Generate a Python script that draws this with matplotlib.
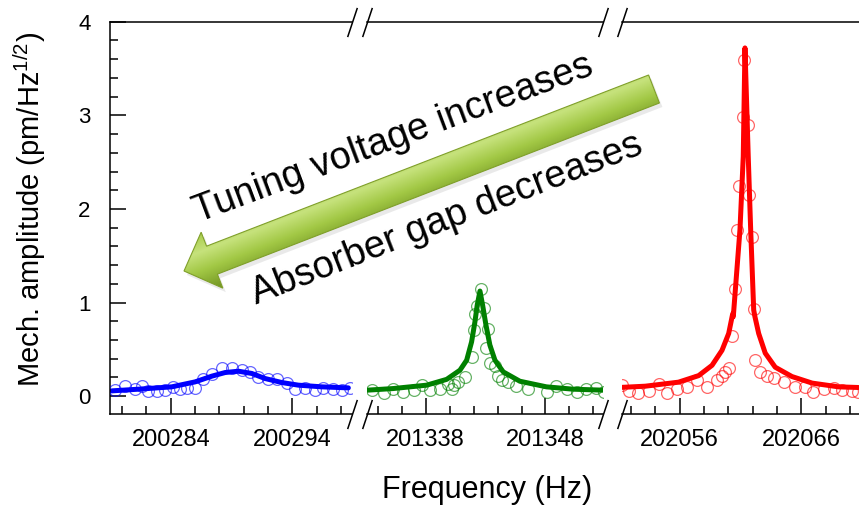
import numpy as np
import matplotlib.pyplot as plt
from matplotlib.patches import FancyArrow
from matplotlib.colors import LinearSegmentedColormap

plt.rcParams['font.family'] = ['Liberation Sans', 'DejaVu Sans']
plt.rcParams['mathtext.default'] = 'regular'

# --- measured spectra (frequency in Hz, amplitude in pm/Hz^1/2) ---
blue_f = [200279.42, 200280.24, 200281.06, 200281.61, 200282.16, 200282.85, 200283.53,
          200284.21, 200284.76, 200285.32, 200286.00, 200286.68, 200287.37, 200288.19,
          200289.02, 200289.84, 200290.52, 200291.20, 200292.03, 200292.72, 200293.54,
          200294.22, 200295.04, 200295.87, 200296.55, 200297.37, 200298.06, 200298.74]
blue_a = [0.071, 0.107, 0.082, 0.107, 0.057, 0.057, 0.071,
          0.100, 0.082, 0.093, 0.093, 0.180, 0.235, 0.296,
          0.296, 0.278, 0.260, 0.207, 0.189, 0.180, 0.136,
          0.082, 0.093, 0.071, 0.093, 0.082, 0.071, 0.093]

green_f = [201333.5, 201334.5, 201335.3, 201336.1, 201337.0, 201337.7, 201338.4, 201339.2,
           201339.9, 201340.2, 201340.4, 201340.7, 201341.3, 201341.9, 201342.0, 201342.1,
           201342.25, 201342.6, 201342.9, 201343.2, 201343.0, 201343.4, 201343.8, 201344.0,
           201344.4, 201344.9, 201345.5, 201346.5, 201348.1, 201348.9, 201349.8, 201350.6,
           201351.4, 201352.2, 201352.9]
green_a = [0.064, 0.030, 0.080, 0.040, 0.064, 0.120, 0.064, 0.080,
           0.135, 0.080, 0.120, 0.150, 0.210, 0.420, 0.710, 0.880,
           0.960, 1.140, 0.940, 0.720, 0.510, 0.360, 0.320, 0.220,
           0.170, 0.150, 0.110, 0.075, 0.040, 0.110, 0.080, 0.046,
           0.080, 0.085, 0.040]

red_f = [202051.26, 202051.8, 202052.6, 202053.45, 202054.27, 202054.96, 202055.78,
         202056.6, 202057.42, 202058.25, 202059.07, 202059.48, 202059.75, 202060.03,
         202060.3, 202060.55, 202060.69, 202060.88, 202061.18, 202061.32, 202061.64,
         202061.73, 202061.92, 202062.1, 202062.2, 202062.6, 202063.18, 202063.73,
         202064.55, 202065.5, 202066.33, 202067.0, 202067.84, 202068.66, 202069.35,
         202070.17, 202070.7]
red_a = [0.120, 0.057, 0.030, 0.057, 0.135, 0.035, 0.080,
         0.100, 0.170, 0.100, 0.170, 0.220, 0.260, 0.300,
         0.640, 1.150, 1.780, 2.240, 2.980, 3.590, 2.900,
         2.150, 1.700, 0.930, 0.390, 0.260, 0.220, 0.190,
         0.150, 0.100, 0.100, 0.046, 0.080, 0.093, 0.070,
         0.057, 0.046]

# --- Lorentzian fit curves, sampled ---
blue_fit_f = [200279.15, 200281.34, 200284.08, 200286.0, 200287.37, 200288.47, 200289.56,
              200290.66, 200291.75, 200293.13, 200294.49, 200296.42, 200298.6]
blue_fit_a = [0.057, 0.075, 0.100, 0.153, 0.214, 0.253, 0.267,
              0.243, 0.189, 0.146, 0.118, 0.100, 0.089]

green_fit_f = [201333.06, 201335.3, 201338.08, 201339.75, 201340.86, 201341.42, 201341.83,
               201342.11, 201342.3, 201342.53, 201342.75, 201343.03, 201343.36, 201343.78,
               201344.47, 201345.86, 201348.08, 201350.3, 201352.94]
green_fit_a = [0.064, 0.082, 0.118, 0.180, 0.278, 0.385, 0.580,
               0.795, 0.973, 1.123, 0.973, 0.760, 0.545, 0.385,
               0.260, 0.160, 0.100, 0.075, 0.064]

red_fit_f = [202051.0, 202053.17, 202055.9, 202057.56, 202058.66, 202059.48, 202060.03,
             202060.36, 202060.41, 202060.96, 202061.23, 202061.37, 202061.64, 202061.84,
             202062.09, 202062.19, 202062.5, 202063.04, 202063.86, 202065.24, 202066.9,
             202069.07, 202070.7]
red_fit_a = [0.093, 0.107, 0.150, 0.220, 0.330, 0.490, 0.670,
             0.880, 0.850, 1.780, 2.560, 3.720, 2.560, 1.780,
             0.920, 0.850, 0.670, 0.460, 0.310, 0.210, 0.140,
             0.100, 0.093]

panel_xlims = [(200279.0, 200298.9), (201333.1, 201352.8), (202051.25, 202071.25)]
panel_majors = [[200284, 200294], [201338, 201348], [202056, 202066]]
colors = ['#0000ff', '#008000', '#ff0000']

W, H = 859, 512
fig = plt.figure(figsize=(W / 100, H / 100), dpi=100)

# panel extents in pixels (left, right), shared top/bottom
panel_px = [(110, 352), (367, 603), (622, 865)]
top_px, bot_px = 21.7, 414

axes = []
for (l, r) in panel_px:
    ax = fig.add_axes([l / W, (H - bot_px) / H, (r - l) / W, (bot_px - top_px) / H])
    axes.append(ax)

series = [(blue_f, blue_a, blue_fit_f, blue_fit_a),
          (green_f, green_a, green_fit_f, green_fit_a),
          (red_f, red_a, red_fit_f, red_fit_a)]

for i, ax in enumerate(axes):
    f, a, ff, fa = series[i]
    ax.plot(ff, fa, color=colors[i], lw=3.6, solid_capstyle='round', zorder=2)
    ax.plot(f, a, ls='none', marker='o', ms=8.5, mfc='none', mec=colors[i],
            mew=0.9, alpha=0.6, zorder=3)
    ax.set_xlim(*panel_xlims[i])
    ax.set_ylim(-0.19, 4.0)
    ax.set_xticks(panel_majors[i])
    ax.set_xticklabels([str(v) for v in panel_majors[i]])
    ax.xaxis.set_minor_locator(plt.MultipleLocator(2))
    ax.tick_params(axis='x', which='both', direction='in', top=False, labelsize=17, pad=11)
    ax.tick_params(axis='x', which='major', length=11.5, width=1.1)
    ax.tick_params(axis='x', which='minor', length=6, width=1.1)
    ax.spines['right'].set_visible(False)
    for s in ax.spines.values():
        s.set_linewidth(1.1)
    if i == 0:
        ax.set_yticks([0, 1, 2, 3, 4])
        ax.yaxis.set_minor_locator(plt.MultipleLocator(0.2))
        ax.tick_params(axis='y', which='both', direction='in', right=False, labelsize=16, pad=14)
        ax.tick_params(axis='y', which='major', length=11.5, width=1.1)
        ax.tick_params(axis='y', which='minor', length=6, width=1.1)
    else:
        ax.spines['left'].set_visible(False)
        ax.tick_params(axis='y', which='both', left=False, labelleft=False)
    ax.patch.set_alpha(0)

# break marks "//" at the gaps
brk = dict(marker=[(-1, -3), (1, 3)], markersize=21, linestyle='none',
           color='k', mec='k', mew=1.1, clip_on=False)
for left_ax, right_ax in zip(axes[:-1], axes[1:]):
    left_ax.plot([1, 1], [0, 1], transform=left_ax.transAxes, **brk)
    right_ax.plot([0, 0], [0, 1], transform=right_ax.transAxes, **brk)

# overlay in pixel coordinates for the arrow and annotations
ov = fig.add_axes([0, 0, 1, 1])
ov.set_xlim(0, W)
ov.set_ylim(H, 0)
ov.axis('off')
ov.patch.set_alpha(0)

tail = np.array([654.0, 89.0])
tip = np.array([184.0, 271.0])
d = tip - tail
arrow_kw = dict(width=30, head_width=60, head_length=30, length_includes_head=True)

shadow = FancyArrow(tail[0] + 3, tail[1] + 4, d[0], d[1], fc='#888888', ec='none',
                    alpha=0.18, **arrow_kw)
ov.add_patch(shadow)
arrow = FancyArrow(tail[0], tail[1], d[0], d[1], fc='none', ec='#7f9f2a', lw=0.8, **arrow_kw)
ov.add_patch(arrow)

# cylinder-like shading across the arrow
u = d / np.hypot(*d)
n = np.array([u[1], -u[0]])
if n[1] > 0:
    n = -n
xx, yy = np.meshgrid(np.arange(W) + 0.5, np.arange(H) + 0.5)
s = ((xx - tail[0]) * n[0] + (yy - tail[1]) * n[1]) / 30.0
t = np.clip((1 - s) / 2, 0, 1)
cmap = LinearSegmentedColormap.from_list(
    'arrow_shade', [(0.0, '#a8cc4a'), (0.3, '#c6e27c'), (0.6, '#a2c845'), (1.0, '#6f9220')])
img = ov.imshow(t, cmap=cmap, vmin=0, vmax=1, extent=(0, W, 0, H), origin='lower',
                aspect='auto', interpolation='bilinear', zorder=1)
img.set_clip_path(arrow)
arrow.set_zorder(2)
ov.set_xlim(0, W)
ov.set_ylim(H, 0)

ov.text(393, 139, 'Tuning voltage increases', rotation=20.5, rotation_mode='anchor',
        ha='center', va='center', fontsize=27.5)
ov.text(447, 219, 'Absorber gap decreases', rotation=21.3, rotation_mode='anchor',
        ha='center', va='center', fontsize=27.5)

fig.text(487 / W, 1 - 490 / H, 'Frequency (Hz)', ha='center', va='center', fontsize=22)
fig.text(30 / W, 1 - 209 / H, 'Mech. amplitude (pm/Hz$^{1/2}$)', rotation=90,
         ha='center', va='center', fontsize=21)

fig.savefig('out.png', dpi=100)
